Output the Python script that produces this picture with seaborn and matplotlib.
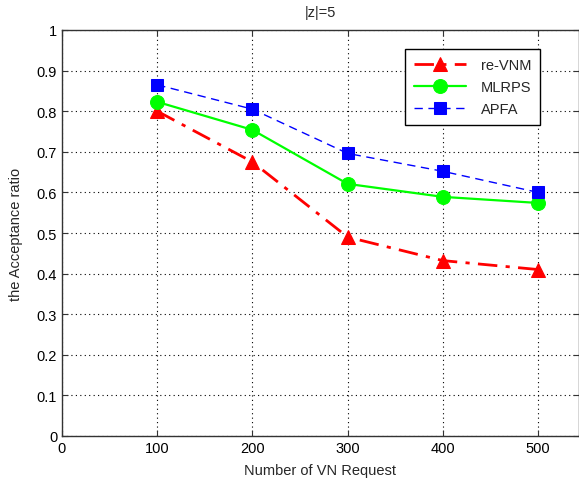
import matplotlib
matplotlib.use("Agg")
import matplotlib.pyplot as plt
import pandas as pd
import seaborn as sns

# --- Data ---
vn_requests = [100, 200, 300, 400, 500]
re_vnm = [0.800, 0.675, 0.490, 0.432, 0.410]
mlrps = [0.823, 0.754, 0.621, 0.589, 0.574]
apfa = [0.865, 0.805, 0.696, 0.652, 0.600]
series_names = ["re-VNM", "MLRPS", "APFA"]
x_ticks = [0, 100, 200, 300, 400, 500]
y_ticks = [0, 0.1, 0.2, 0.3, 0.4, 0.5, 0.6, 0.7, 0.8, 0.9, 1]
y_tick_labels = ["0", "0.1", "0.2", "0.3", "0.4", "0.5", "0.6", "0.7", "0.8", "0.9", "1"]

df = pd.DataFrame({
    "requests": vn_requests * 3,
    "ratio": re_vnm + mlrps + apfa,
    "method": [n for n in series_names for _ in vn_requests],
})

sns.set_style("ticks")
plt.rcParams["font.family"] = ["Liberation Sans", "DejaVu Sans"]
plt.rcParams["font.size"] = 10.5

fig = plt.figure(figsize=(5.79, 4.85), dpi=100)
ax = fig.add_axes([62 / 579, 1 - 437 / 485, 1 - 62 / 579, (437 - 31) / 485])

styles = {
    "re-VNM": dict(color="#ff0000", linestyle=(0, (7, 3, 1.5, 3)), linewidth=2.0,
                   marker="^", markersize=10),
    "MLRPS": dict(color="#00ff00", linestyle="-", linewidth=1.6,
                  marker="o", markersize=10),
    "APFA": dict(color="#0000ff", linestyle=(0, (6, 4)), linewidth=1.0,
                 marker="s", markersize=8.5),
}
for name in series_names:
    sub = df[df["method"] == name]
    st = styles[name]
    sns.lineplot(data=sub, x="requests", y="ratio", ax=ax, label=name,
                 color=st["color"], linestyle=st["linestyle"], linewidth=st["linewidth"],
                 marker=st["marker"], markersize=st["markersize"],
                 markeredgecolor=st["color"], markerfacecolor=st["color"])

ax.set_xlim(0, 543)
ax.set_ylim(0, 1)
ax.set_xticks(x_ticks)
ax.set_yticks(y_ticks)
ax.set_yticklabels(y_tick_labels)
ax.grid(True, color="black", linestyle=(0, (1, 3)), linewidth=0.8)
ax.tick_params(direction="in", length=4, top=True, right=True, colors="#333333",
               labelcolor="black", labelsize=10.5)
for sp in ax.spines.values():
    sp.set_color("#333333")
    sp.set_linewidth(1.0)

ax.set_xlabel("Number of VN Request", fontsize=10.5, labelpad=6)
ax.set_ylabel("the Acceptance ratio", fontsize=10.5, labelpad=10)
ax.set_title("|z|=5", fontsize=10.5, pad=10)

leg = ax.legend(loc="upper right", bbox_to_anchor=(0.925, 0.953), borderaxespad=0,
                frameon=True, fancybox=False, edgecolor="black", framealpha=1,
                handlelength=3.6, handletextpad=1.0, borderpad=0.6, labelspacing=0.55,
                fontsize=10.5)
leg.get_frame().set_linewidth(1.0)

fig.savefig("out.png", dpi=100)
